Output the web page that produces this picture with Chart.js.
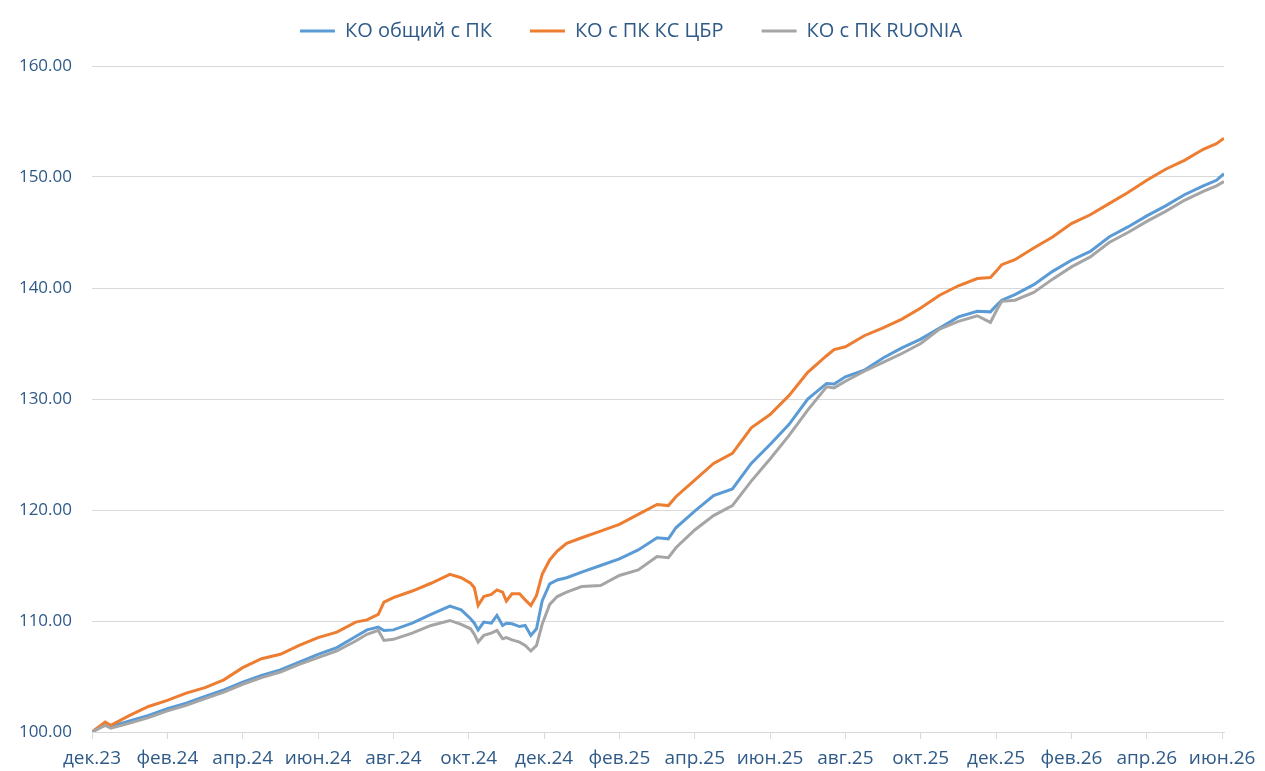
<!DOCTYPE html>
<html>
<head>
<meta charset="utf-8">
<script src="https://cdn.jsdelivr.net/npm/chart.js@4"></script>
<style>
  html, body { margin: 0; padding: 0; background: #fff; }
</style>
</head>
<body>
<canvas id="myChart" width="1265" height="771"></canvas>
<script>
// Month offsets from дек.23 (0 = start of Dec 2023)
const months = [0, 0.35, 0.5, 1, 1.5, 2, 2.5, 3, 3.5, 4, 4.5, 5, 5.5, 6, 6.5, 7, 7.3, 7.6, 7.75, 8, 8.5, 9, 9.5, 9.8,
  10.05, 10.15, 10.25, 10.4, 10.6, 10.75, 10.9, 11, 11.15, 11.35, 11.5, 11.65, 11.8, 11.95, 12.15, 12.35, 12.6,
  13, 13.5, 14, 14.5, 15, 15.3, 15.5, 16, 16.5, 17, 17.5, 18, 18.5, 19, 19.5, 19.7, 20, 20.5, 21, 21.5, 22, 22.5,
  23, 23.5, 23.85, 24, 24.15, 24.5, 25, 25.5, 26, 26.5, 27, 27.5, 28, 28.5, 29, 29.5, 29.85, 30.05];

const koTotal = [100.0, 100.7, 100.5, 101.0, 101.5, 102.1, 102.6, 103.2, 103.8, 104.5, 105.1, 105.6, 106.3, 107.0, 107.6, 108.6, 109.2, 109.45, 109.15, 109.2, 109.8, 110.6, 111.35, 111.0,
  110.2, 109.8, 109.2, 109.9, 109.8, 110.5, 109.6, 109.8, 109.75, 109.5, 109.6, 108.7, 109.3, 111.8, 113.35, 113.7, 113.9,
  114.4, 115.0, 115.6, 116.4, 117.5, 117.4, 118.4, 119.9, 121.3, 121.9, 124.2, 125.9, 127.7, 130.0, 131.4, 131.35, 132.0, 132.6, 133.7, 134.6, 135.4, 136.4,
  137.4, 137.9, 137.85, 138.4, 138.9, 139.4, 140.3, 141.5, 142.5, 143.3, 144.6, 145.5, 146.5, 147.4, 148.4, 149.2, 149.7, 150.3];

const koKeyRate = [100.0, 100.9, 100.6, 101.5, 102.3, 102.85, 103.5, 104.0, 104.7, 105.8, 106.6, 107.0, 107.8, 108.5, 109.0, 109.9, 110.1, 110.6, 111.7, 112.1, 112.7, 113.4, 114.2, 113.9,
  113.4, 113.0, 111.4, 112.2, 112.4, 112.8, 112.6, 111.8, 112.45, 112.45, 111.9, 111.4, 112.3, 114.2, 115.5, 116.3, 117.0,
  117.5, 118.1, 118.7, 119.6, 120.5, 120.4, 121.2, 122.7, 124.2, 125.1, 127.4, 128.6, 130.3, 132.4, 133.9, 134.45, 134.7, 135.7, 136.4, 137.2, 138.2, 139.35,
  140.2, 140.85, 140.95, 141.5, 142.1, 142.55, 143.6, 144.6, 145.8, 146.6, 147.6, 148.6, 149.7, 150.7, 151.5, 152.5, 153.0, 153.5];

const koRuonia = [100.0, 100.6, 100.35, 100.8, 101.3, 101.9, 102.4, 103.0, 103.6, 104.3, 104.9, 105.4, 106.1, 106.7, 107.3, 108.2, 108.8, 109.15, 108.25, 108.35, 108.9, 109.6, 110.05, 109.7,
  109.3, 108.8, 108.1, 108.7, 108.9, 109.15, 108.4, 108.5, 108.3, 108.1, 107.8, 107.3, 107.8, 109.7, 111.5, 112.2, 112.6,
  113.1, 113.2, 114.1, 114.6, 115.8, 115.7, 116.6, 118.2, 119.5, 120.4, 122.6, 124.6, 126.7, 129.0, 131.1, 131.0, 131.6, 132.5, 133.3, 134.1, 135.0, 136.3,
  137.0, 137.5, 136.9, 137.9, 138.8, 138.9, 139.6, 140.8, 141.9, 142.8, 144.1, 145.0, 146.0, 146.9, 147.9, 148.7, 149.2, 149.6];

const tickLabels = ['дек.23', 'фев.24', 'апр.24', 'июн.24', 'авг.24', 'окт.24', 'дек.24', 'фев.25',
  'апр.25', 'июн.25', 'авг.25', 'окт.25', 'дек.25', 'фев.26', 'апр.26', 'июн.26'];

const textColor = '#2f5a88';
const fontFamily = "'Open Sans', sans-serif";

function toPoints(values) {
  return values.map((v, i) => ({ x: months[i], y: v }));
}

// fixed legend band height, then nudge the legend text into place
const legendLayout = {
  id: 'legendLayout',
  beforeInit(chart) {
    const legend = chart.legend;
    const origFit = legend.fit;
    legend.fit = function () {
      origFit.call(this);
      this.height = 66;
    };
  },
  afterLayout(chart) {
    const legend = chart.legend;
    legend.top -= 17;
    legend.bottom -= 17;
    legend.left += 19;
    legend.right += 19;
  }
};

const ctx = document.getElementById('myChart').getContext('2d');

new Chart(ctx, {
  type: 'line',
  data: {
    datasets: [
      { label: 'КО общий с ПК', data: toPoints(koTotal), borderColor: '#5B9BD5', backgroundColor: '#5B9BD5', order: 3 },
      { label: 'КО с ПК КС ЦБР', data: toPoints(koKeyRate), borderColor: '#ED7D31', backgroundColor: '#ED7D31', order: 2 },
      { label: 'КО с ПК RUONIA', data: toPoints(koRuonia), borderColor: '#A5A5A5', backgroundColor: '#A5A5A5', order: 1 }
    ]
  },
  options: {
    responsive: false,
    animation: false,
    devicePixelRatio: 1,
    elements: {
      line: { borderWidth: 3, tension: 0 },
      point: { radius: 0 }
    },
    layout: { padding: { left: 0, right: 41, top: 0, bottom: 0 } },
    scales: {
      x: {
        type: 'linear',
        min: 0,
        max: 30.05,
        afterBuildTicks: scale => {
          scale.ticks = tickLabels.map((_, i) => ({ value: i * 2 }));
        },
        afterFit: scale => { scale.height = 39; },
        grid: { drawOnChartArea: false, drawTicks: true, tickLength: 7, color: '#d9d9d9' },
        border: { display: true, color: '#d9d9d9' },
        ticks: {
          autoSkip: false,
          maxRotation: 0,
          padding: 8,
          color: textColor,
          font: { family: fontFamily, size: 19 },
          callback: value => tickLabels[Math.round(value / 2)]
        }
      },
      y: {
        min: 100,
        max: 160,
        afterFit: scale => { scale.width = 92; },
        grid: { drawTicks: false, color: '#d9d9d9' },
        border: { display: false },
        ticks: {
          stepSize: 10,
          padding: 20,
          color: textColor,
          font: { family: fontFamily, size: 17 },
          callback: value => value.toFixed(2)
        }
      }
    },
    plugins: {
      tooltip: { enabled: false },
      legend: {
        position: 'top',
        labels: {
          boxWidth: 35,
          boxHeight: 3,
          padding: 38,
          color: textColor,
          font: { family: fontFamily, size: 20 },
          sort: (a, b) => a.datasetIndex - b.datasetIndex,
          generateLabels: chart => Chart.defaults.plugins.legend.labels.generateLabels(chart)
            .map(item => ({ ...item, lineWidth: 0 }))
        }
      }
    }
  },
  plugins: [legendLayout]
});
</script>
</body>
</html>
